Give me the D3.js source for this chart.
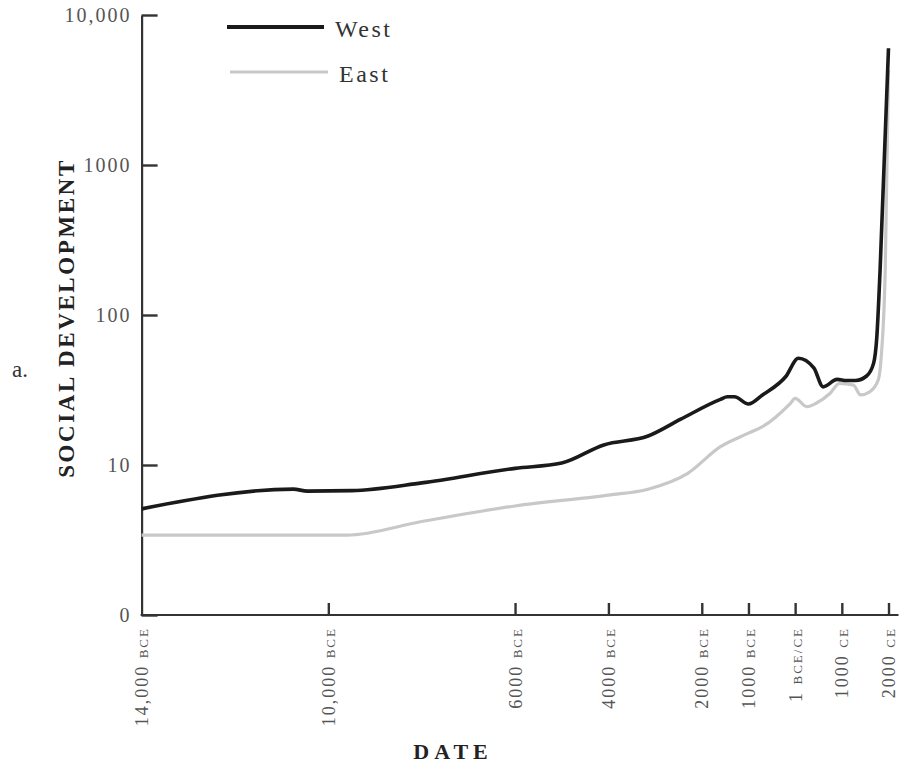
<!DOCTYPE html>
<html><head><meta charset="utf-8">
<script src="https://cdn.jsdelivr.net/npm/d3@7"></script>
<style>body{margin:0;background:#fff} svg{display:block}</style>
</head><body>
<svg id="chart" width="906" height="774"></svg>
<script>
// ---- data ----
const westYears  = [-14000,-10750,-10450,-9500,-8000,-6000,-5000,-4100,-3150,-2450,-1600,-1450,-1300,-1000,-700,-200,70,400,600,900,1100,1300,1530,1680,1750,1820,2000];
const westValues = [5.1,6.9,6.7,6.75,7.6,9.5,10.3,13.6,15.6,20.2,27.4,28.5,28.5,25.5,29.3,38.9,51.5,44.4,33.2,37.2,36.6,36.6,39.2,47.6,71.6,200,6000];
const eastYears  = [-14000,-9600,-8000,-6000,-4000,-3150,-2300,-1600,-1000,-700,-100,0,250,450,750,950,1250,1400,1600,1780,1850,1930,2000];
const eastValues = [3.41,3.41,4.2,5.33,6.3,6.9,8.8,13.25,16.3,18,25.8,27.8,24.5,25.8,30.1,35,34.1,29.3,30.8,36.9,55.6,200,4300];
const xTickYears   = [-14000,-10000,-6000,-4000,-2000,-1000,0,1000,2000];
const xTickNumbers = ["14,000","10,000","6000","4000","2000","1000","1","1000","2000"];
const xTickEras    = ["BCE","BCE","BCE","BCE","BCE","BCE","BCE/CE","CE","CE"];
const yTickValues  = [1,10,100,1000,10000];
const yTickLabels  = ["0","10","100","1000","10,000"];
const seriesNames  = ["West","East"];
const yTitle = "SOCIAL DEVELOPMENT";
const xTitle = "DATE";
const panelLabel = "a.";

// ---- layout ----
const svg = d3.select("#chart");
const serif = "'Liberation Serif','Times New Roman',serif";
const x = d3.scaleLinear().domain([-14000, 2000]).range([141.6, 888.5]);
const y = d3.scaleLog().domain([1, 10000]).range([615, 15]);

// y axis
const yAxis = svg.append("g").attr("transform", `translate(${x(-14000)},0)`)
  .call(d3.axisLeft(y).tickValues(yTickValues).tickSizeInner(-16).tickSizeOuter(0)
        .tickPadding(10).tickFormat((d, i) => yTickLabels[i]));
yAxis.select(".domain").attr("stroke", "#333").attr("stroke-width", 2.2);
yAxis.selectAll(".tick line").attr("stroke", "#333").attr("stroke-width", 2.4);
yAxis.selectAll(".tick text").attr("font-family", serif).attr("font-size", 20)
  .attr("letter-spacing", 2).attr("fill", "#555");

// x axis
const xAxis = svg.append("g").attr("transform", `translate(0,${y(1)})`)
  .call(d3.axisBottom(x).tickValues(xTickYears).tickSizeInner(-12).tickSizeOuter(0).tickFormat(""));
xAxis.select(".domain").remove();
xAxis.append("line").attr("x1", x(-14000) - 1).attr("x2", x(2000) + 10)
  .attr("y1", 0).attr("y2", 0).attr("stroke", "#333").attr("stroke-width", 2.2);
xAxis.selectAll(".tick line").attr("stroke", "#333").attr("stroke-width", 2.4);
xAxis.selectAll(".tick").filter(d => d === -14000).select("line").remove();

// x tick labels (rotated, small caps era)
const xl = svg.append("g");
xTickYears.forEach((d, i) => {
  const t = xl.append("text")
    .attr("transform", `translate(${x(d) + 1},627) rotate(-90)`)
    .attr("text-anchor", "end").attr("dy", "0.35em")
    .attr("font-family", serif).attr("fill", "#555").attr("letter-spacing", 2);
  t.append("tspan").attr("font-size", 18).text(xTickNumbers[i] + " ");
  t.append("tspan").attr("font-size", 13).text(xTickEras[i]);
});

// lines
const line = d3.line().x(d => x(d[0])).y(d => y(d[1])).curve(d3.curveMonotoneX);
const eastData = eastYears.map((d, i) => [d, eastValues[i]]);
const westData = westYears.map((d, i) => [d, westValues[i]]);
svg.append("path").datum(eastData).attr("d", line).attr("fill", "none")
  .attr("stroke", "#c8c8c8").attr("stroke-width", 3.2).attr("stroke-linejoin", "round");
svg.append("path").datum(westData).attr("d", line).attr("fill", "none")
  .attr("stroke", "#1a1a1a").attr("stroke-width", 3.6).attr("stroke-linejoin", "round");

// legend
const legend = [
  {name: seriesNames[0], color: "#1a1a1a", w: 3.8, x1: 227, x2: 324, y: 27},
  {name: seriesNames[1], color: "#c8c8c8", w: 3.2, x1: 230, x2: 328, y: 72}
];
legend.forEach(l => {
  svg.append("line").attr("x1", l.x1).attr("x2", l.x2).attr("y1", l.y).attr("y2", l.y)
    .attr("stroke", l.color).attr("stroke-width", l.w);
  svg.append("text").attr("x", l.x2 + 11).attr("y", l.y + 2).attr("dy", "0.35em")
    .attr("font-family", serif).attr("font-size", 24).attr("letter-spacing", 2.5)
    .attr("fill", "#333").text(l.name);
});

// titles
svg.append("text").attr("transform", "translate(74,318) rotate(-90)")
  .attr("text-anchor", "middle").attr("font-family", serif).attr("font-weight", "bold")
  .attr("font-size", 23).attr("letter-spacing", 2.6).attr("fill", "#222").text(yTitle);
svg.append("text").attr("x", 453).attr("y", 759).attr("text-anchor", "middle")
  .attr("font-family", serif).attr("font-weight", "bold").attr("font-size", 22)
  .attr("letter-spacing", 5).attr("fill", "#222").text(xTitle);
svg.append("text").attr("x", 12).attr("y", 377).attr("font-family", serif)
  .attr("font-size", 23).attr("fill", "#333").text(panelLabel);
</script>
</body></html>
